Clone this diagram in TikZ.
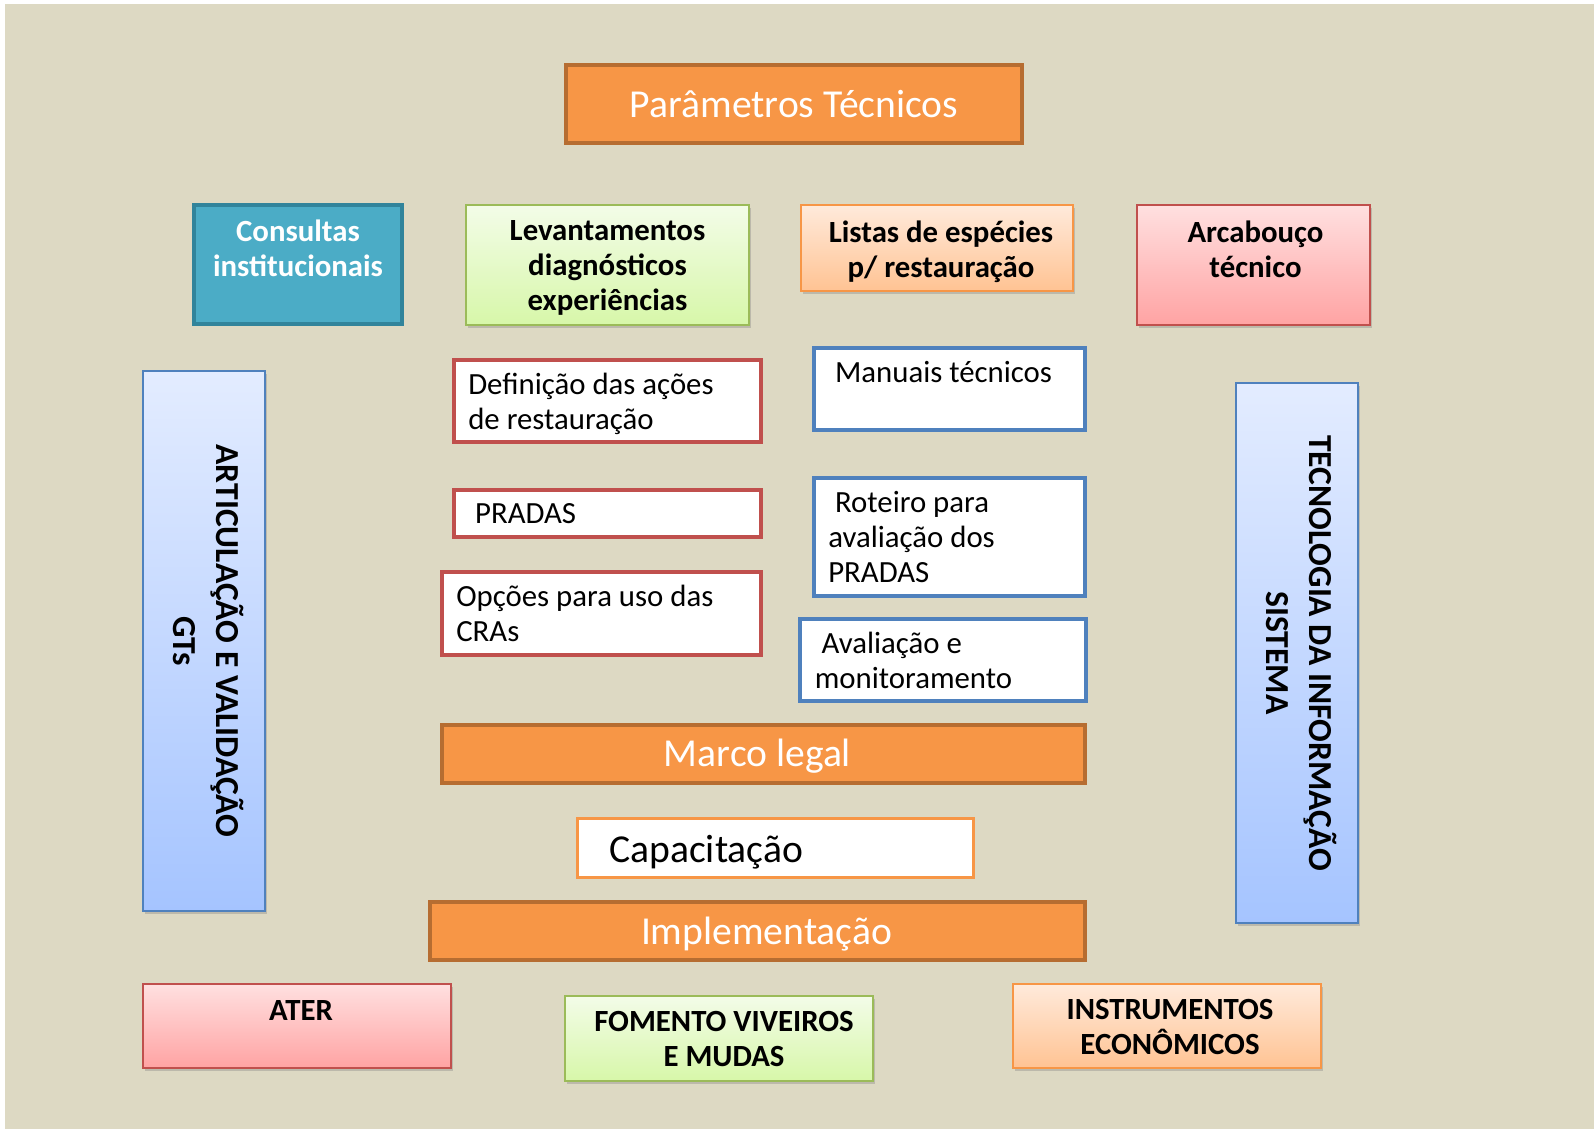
\documentclass[tikz,border=0pt]{standalone}
\usepackage{fontspec}
\setmainfont{Carlito}
\usetikzlibrary{positioning}
\usetikzlibrary{shadows}
\definecolor{beige}{HTML}{DDD9C3}
\definecolor{orangefill}{HTML}{F79646}
\definecolor{orangeline}{HTML}{B66D31}
\definecolor{tealfill}{HTML}{4BACC6}
\definecolor{tealline}{HTML}{31849B}
\definecolor{greentop}{HTML}{F3FCE8}
\definecolor{greenbot}{HTML}{D7F7A9}
\definecolor{greenline}{HTML}{9BBB59}
\definecolor{peachtop}{HTML}{FFEADB}
\definecolor{peachbot}{HTML}{FFC393}
\definecolor{peachline}{HTML}{F79646}
\definecolor{pinktop}{HTML}{FFE0E0}
\definecolor{pinkbot}{HTML}{FFA3A3}
\definecolor{pinkline}{HTML}{C0504D}
\definecolor{bluetop}{HTML}{E3ECFF}
\definecolor{bluebot}{HTML}{A5C4FF}
\definecolor{blueline}{HTML}{4F81BD}
\definecolor{redline}{HTML}{C0504D}
\tikzset{head node/.style={rectangle,draw=orangeline,line width=2pt,fill=orangefill,text=white,font=\fontsize{19.8}{23}\selectfont,inner sep=0pt},
  grad node/.style={rectangle,draw=#1line,line width=1pt,top color=#1top,bottom color=#1bot,drop shadow={shadow xshift=1.2pt,shadow yshift=-1.5pt,opacity=.35},inner sep=0pt},
  white node/.style={rectangle,draw=#1,line width=1.9pt,fill=white,inner sep=0pt},
  bold text/.style={font=\bfseries\fontsize{15.4}{17.6}\selectfont,align=center,inner sep=0pt},
  plain text/.style={font=\fontsize{15.4}{17.6}\selectfont,align=left,inner sep=0pt},
  side text/.style={font=\bfseries\fontsize{16.8}{21.5}\selectfont,align=center,inner sep=0pt,rotate=-90,anchor=north} }
\begin{document}
\begin{tikzpicture}[x=0.5pt,y=-0.5pt]
  \fill[white] (0,0) rectangle (1594,1129);
  \fill[beige] (5,4) rectangle (1594,1129);

  % top
  \node[head node,minimum width=228pt,minimum height=39pt] (param) at (794,104) {Parâmetros Técnicos};

  \node[rectangle,draw=tealline,line width=2pt,fill=tealfill,minimum width=104pt,minimum height=59.5pt] (consultas) at (298,264.5) {};
  \node[grad node=green,minimum width=141.5pt,minimum height=60pt] (levant) at (607.5,265) {};
  \node[grad node=peach,minimum width=136pt,minimum height=43pt] (listas) at (937,248) {};
  \node[grad node=pink,minimum width=116.5pt,minimum height=60pt] (arcab) at (1253.5,265) {};

  \node[bold text,text=white,below=8pt of consultas.north] (consultas text) {Consultas\\institucionais};
  \node[bold text,below=8pt of levant.north] (levant text) {Levantamentos\\diagnósticos\\experiências};
  \node[bold text,below=8pt of listas.north,xshift=2pt] (listas text) {Listas de espécies\\p/ restauração};
  \node[bold text,below=8pt of arcab.north,xshift=1pt] (arcab text) {Arcabouço\\técnico};

  % side bars
  \node[grad node=blue,minimum width=61pt,minimum height=270pt] (artic) at (204,641) {};
  \node[grad node=blue,minimum width=61pt,minimum height=270pt] (tecno) at (1297,653) {};
  \node[side text] (artic text) at ([xshift=-11pt]artic.east) {ARTICULAÇÃO E VALIDAÇÃO\\GTs};
  \node[side text] (tecno text) at ([xshift=-11pt]tecno.east) {TECNOLOGIA DA INFORMAÇÃO\\SISTEMA};

  % middle
  \node[white node=redline,minimum width=153.7pt,minimum height=41.2pt] (defin) at (607.5,401) {};
  \node[white node=redline,minimum width=153.7pt,minimum height=23.7pt] (pradas) at (607.5,513.5) {};
  \node[white node=redline,minimum width=159.7pt,minimum height=41.7pt] (opcoes) at (601.5,613.5) {};
  \node[white node=blueline,minimum width=135.7pt,minimum height=41.2pt] (manuais) at (949.5,389) {};
  \node[white node=blueline,minimum width=135.7pt,minimum height=59.2pt] (roteiro) at (949.5,537) {};
  \node[white node=blueline,minimum width=142.7pt,minimum height=41.2pt] (avalia) at (943,660) {};

  \node[plain text,below right=7.5pt and 8pt of defin.north west] (defin text) {Definição das ações\\de restauração};
  \node[plain text,below right=7.5pt and 11.4pt of pradas.north west] (pradas text) {PRADAS};
  \node[plain text,below right=7.5pt and 8pt of opcoes.north west] (opcoes text) {Opções para uso das\\CRAs};
  \node[plain text,below right=7.5pt and 11.4pt of manuais.north west] (manuais text) {Manuais técnicos};
  \node[plain text,below right=7.5pt and 8pt of roteiro.north west] (roteiro text) {\hspace*{3.4pt}Roteiro para\\avaliação dos\\PRADAS};
  \node[plain text,below right=7.5pt and 8pt of avalia.north west] (avalia text) {\hspace*{3.4pt}Avaliação e\\monitoramento};

  % bottom
  \node[head node,minimum width=321.5pt,minimum height=29pt] (marco) at (763.5,754) {};
  \node[text=white,font=\fontsize{19.8}{23}\selectfont,inner sep=0pt] (marco text) at ([xshift=-3pt,yshift=-1pt]marco.center) {Marco legal};
  \node[white node=orangefill,line width=1.5pt,minimum width=198pt,minimum height=29.5pt] (capac) at (775.5,848) {};
  \node[plain text,font=\fontsize{19.8}{23}\selectfont,below right=9pt and 16.5pt of capac.north west] (capac text) {Capacitação};
  \node[head node,minimum width=327.5pt,minimum height=29pt] (implem) at (757.5,931) {};
  \node[text=white,font=\fontsize{19.8}{23}\selectfont,inner sep=0pt] (implem text) at ([xshift=4.5pt,yshift=-1.5pt]implem.center) {Implementação};

  \node[grad node=pink,minimum width=154pt,minimum height=42pt] (ater) at (297,1026) {};
  \node[grad node=green,minimum width=154pt,minimum height=42.5pt] (fomento) at (719,1038.5) {};
  \node[grad node=peach,minimum width=154pt,minimum height=42pt] (instr) at (1167,1026) {};
  \node[bold text,below=8.5pt of ater.north,xshift=2pt] (ater text) {ATER};
  \node[bold text,below=8pt of fomento.north,xshift=2.5pt] (fomento text) {FOMENTO VIVEIROS\\E MUDAS};
  \node[bold text,below=8pt of instr.north,xshift=1.5pt] (instr text) {INSTRUMENTOS\\ECONÔMICOS};
\end{tikzpicture}
\end{document}
